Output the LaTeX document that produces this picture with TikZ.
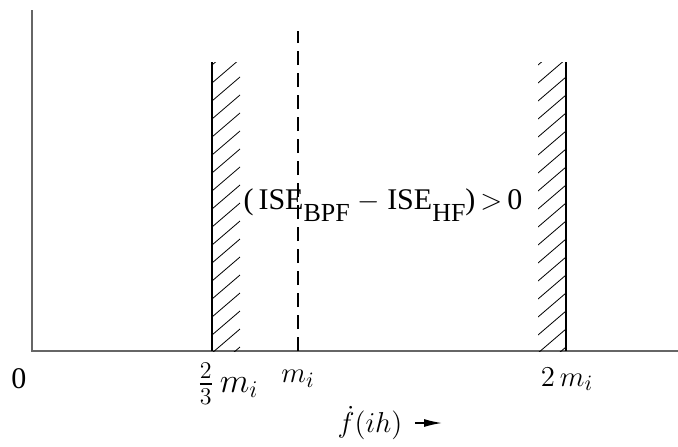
\documentclass[tikz,border=0pt]{standalone}
\usepackage{fontspec}
\setmainfont{Liberation Serif}
\usepackage{amsmath}
\usetikzlibrary{arrows.meta}

\newcommand{\lowsub}[1]{\raisebox{-6pt}{\fontsize{13}{15}\selectfont #1}}

\tikzset{
  axisline/.style={line width=1pt, gray!80!black},
  wallline/.style={line width=0.6pt},
  hatchline/.style={line width=0.4pt},
  lbl/.style={font=\fontsize{15}{17}\selectfont, inner sep=1pt}
}

\begin{document}
\begin{tikzpicture}[x=0.5pt,y=0.5pt]

\useasboundingbox (-32,-95) rectangle (646,351);

% axes
\coordinate (O) at (0,0);
\coordinate (ytop) at (0,341);
\coordinate (xend) at (646,0);
\draw[axisline] (ytop) -- (O) -- (xend);

% walls
\draw[wallline] (180,0) -- (180,289); % 2/3 m_i
\draw[wallline] (534,0) -- (534,289); % 2 m_i

\begin{scope}
\clip (180,0) rectangle (208,289);
\foreach \y in {-20,-2,...,290}
  \draw[hatchline] (180,\y) -- (208,\y+24);
\end{scope}

\begin{scope}
\clip (506,0) rectangle (534,289);
\foreach \y in {-20,-2,...,290}
  \draw[hatchline] (506,\y) -- (534,\y+24);
\end{scope}

% m_i
\draw[wallline, dash pattern=on 7pt off 4pt] (266,0) -- (266,320);

\node[lbl] (ise) at (351,146) {(\,ISE\lowsub{BPF}\ $-$\ ISE\lowsub{HF})\,$>$\,0};

\node[lbl] (zero) at (-13,-28) {0};
\node[lbl, font=\fontsize{17}{19}\selectfont] (twothirds) at (196,-33) {$\frac{2}{3}\,m_i$};
\node[lbl] (mi) at (266,-28) {$m_i$};
\node[lbl] (twomi) at (535,-28) {$2\,m_i$};

\node[lbl] (fdot) at (338,-72) {$\dot{f}(ih)$};
\coordinate (arrend) at (410,-72);
\draw[line width=0.7pt, -{Latex[length=9pt,width=4pt]}] ([xshift=5pt]fdot.east) -- (arrend);

\end{tikzpicture}
\end{document}
